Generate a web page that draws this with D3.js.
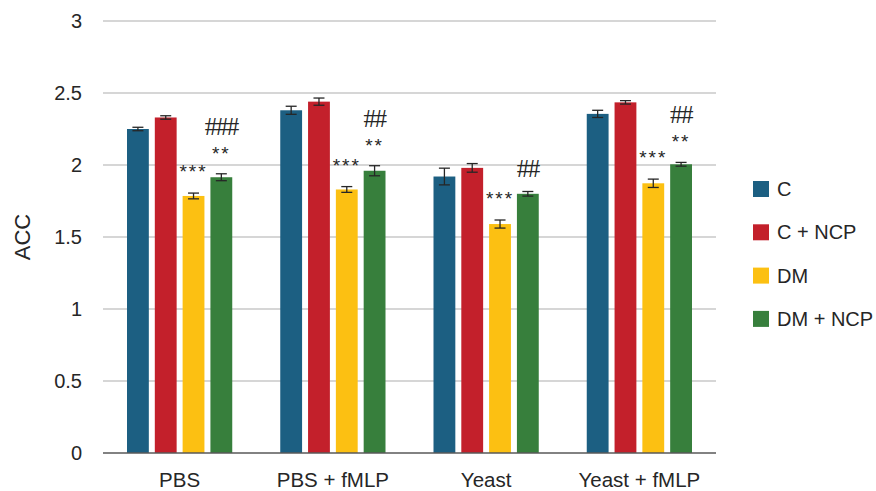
<!DOCTYPE html>
<html>
<head>
<meta charset="utf-8">
<script src="https://cdn.jsdelivr.net/npm/d3@7"></script>
<style>
  html, body { margin: 0; padding: 0; background: #ffffff; }
  svg { display: block; font-family: "Liberation Sans", Arial, sans-serif; }
</style>
</head>
<body>
<svg id="chart" width="876" height="491"></svg>
<script>
// Groups along the x axis and the four treatment series
const categories = ["PBS", "PBS + fMLP", "Yeast", "Yeast + fMLP"];
const seriesNames = ["C", "C + NCP", "DM", "DM + NCP"];
const seriesColors = ["#1c5f82", "#c3202b", "#fcc012", "#377f3c"];

// Mean ACC per series (one value per category)
const valuesC      = [2.25, 2.38, 1.92, 2.355];
const valuesCNCP   = [2.33, 2.44, 1.98, 2.435];
const valuesDM     = [1.785, 1.83, 1.59, 1.873];
const valuesDMNCP  = [1.915, 1.96, 1.80, 2.005];

// Error bar half-widths
const errC     = [0.012, 0.028, 0.058, 0.025];
const errCNCP  = [0.012, 0.025, 0.030, 0.012];
const errDM    = [0.020, 0.020, 0.028, 0.029];
const errDMNCP = [0.024, 0.035, 0.016, 0.013];

// Significance marks: DM vs C, DM + NCP vs DM, DM + NCP vs C
const marksDM    = ["***", "***", "***", "***"];
const marksDMNCP = ["**", "**", "", "**"];
const marksHash  = ["###", "##", "##", "##"];

const yTicks = [0, 0.5, 1, 1.5, 2, 2.5, 3];

const values = [valuesC, valuesCNCP, valuesDM, valuesDMNCP];
const errors = [errC, errCNCP, errDM, errDMNCP];

const svg = d3.select("#chart");
const plot = { left: 103, right: 716, top: 21, bottom: 453 };

const y = d3.scaleLinear().domain([0, 3]).range([plot.bottom, plot.top]);
const x0 = d3.scaleBand().domain(categories).range([plot.left, plot.right]).padding(0);
const x1 = d3.scaleBand().domain(seriesNames)
  .range([24, x0.bandwidth() - 24]).paddingInner(0.215).paddingOuter(0);

// Horizontal gridlines
svg.append("g").selectAll("line")
  .data(yTicks.filter(d => d > 0))
  .join("line")
  .attr("x1", plot.left).attr("x2", plot.right)
  .attr("y1", d => y(d)).attr("y2", d => y(d))
  .attr("stroke", "#c8c8c8").attr("stroke-width", 1.5);

// Y tick labels
svg.append("g").selectAll("text")
  .data(yTicks)
  .join("text")
  .attr("x", 82).attr("y", d => y(d))
  .attr("dy", "0.35em")
  .attr("text-anchor", "end")
  .attr("font-size", 20).attr("fill", "#262626")
  .text(d => d3.format("")(d));

// Y axis title
svg.append("text")
  .attr("transform", `translate(${30},${y(1.5)}) rotate(-90)`)
  .attr("text-anchor", "middle")
  .attr("font-size", 22).attr("fill", "#262626")
  .text("ACC");

// Bars
const groups = svg.append("g").selectAll("g")
  .data(categories)
  .join("g")
  .attr("transform", c => `translate(${x0(c)},0)`);

groups.each(function(c, ci) {
  const g = d3.select(this);
  seriesNames.forEach((s, si) => {
    const v = values[si][ci];
    const e = errors[si][ci];
    const bx = x1(s);
    const cx = bx + x1.bandwidth() / 2;
    g.append("rect")
      .attr("x", bx).attr("width", x1.bandwidth())
      .attr("y", y(v)).attr("height", y(0) - y(v))
      .attr("fill", seriesColors[si]);
    // error bar
    const eb = g.append("g").attr("stroke", "#262626").attr("stroke-width", 1.3);
    eb.append("line").attr("x1", cx).attr("x2", cx).attr("y1", y(v - e)).attr("y2", y(v + e));
    eb.append("line").attr("x1", cx - 5.5).attr("x2", cx + 5.5).attr("y1", y(v - e)).attr("y2", y(v - e));
    eb.append("line").attr("x1", cx - 5.5).attr("x2", cx + 5.5).attr("y1", y(v + e)).attr("y2", y(v + e));
  });

  // significance labels
  const dmCx = x1("DM") + x1.bandwidth() / 2;
  const dmTop = y(valuesDM[ci] + errDM[ci]);
  g.append("text")
    .attr("x", dmCx).attr("y", dmTop - 15)
    .attr("text-anchor", "middle").attr("font-size", 19)
    .attr("letter-spacing", 2).attr("fill", "#262626")
    .text(marksDM[ci]);

  const gCx = x1("DM + NCP") + x1.bandwidth() / 2;
  let top = y(valuesDMNCP[ci] + errDMNCP[ci]);
  if (marksDMNCP[ci]) {
    g.append("text")
      .attr("x", gCx).attr("y", top - 14)
      .attr("text-anchor", "middle").attr("font-size", 19)
      .attr("letter-spacing", 2).attr("fill", "#262626")
      .text(marksDMNCP[ci]);
    top = top - 25;
  }
  g.append("text")
    .attr("x", gCx).attr("y", top - 14)
    .attr("text-anchor", "middle").attr("font-size", 25)
    .attr("font-family", "'Liberation Serif', 'Times New Roman', serif")
    .attr("letter-spacing", -1.5).attr("fill", "#262626")
    .text(marksHash[ci]);
});

// X axis baseline
svg.append("line")
  .attr("x1", plot.left).attr("x2", plot.right)
  .attr("y1", y(0)).attr("y2", y(0))
  .attr("stroke", "#595959").attr("stroke-width", 1.5);

// X category labels
svg.append("g").selectAll("text")
  .data(categories)
  .join("text")
  .attr("x", c => x0(c) + x0.bandwidth() / 2)
  .attr("y", 487)
  .attr("text-anchor", "middle")
  .attr("font-size", 20.5).attr("fill", "#262626")
  .text(c => c);

// Legend
const legend = svg.append("g").selectAll("g")
  .data(seriesNames)
  .join("g")
  .attr("transform", (d, i) => `translate(753,${189 + i * 43.3})`);
legend.append("rect")
  .attr("x", 0).attr("y", -8).attr("width", 16).attr("height", 16)
  .attr("fill", (d, i) => seriesColors[i]);
legend.append("text")
  .attr("x", 24).attr("y", 0).attr("dy", "0.35em")
  .attr("font-size", 20).attr("fill", "#262626")
  .text(d => d);
</script>
</body>
</html>
